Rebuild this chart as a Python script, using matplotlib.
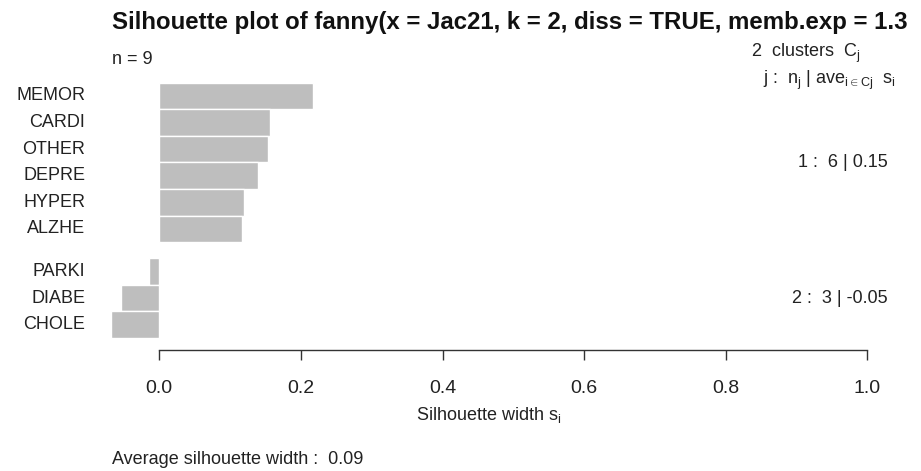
import numpy as np
import matplotlib
matplotlib.use("Agg")
import matplotlib.pyplot as plt
from matplotlib import transforms

# silhouette widths per object, sorted within cluster
names = ["MEMOR", "CARDI", "OTHER", "DEPRE", "HYPER", "ALZHE", "PARKI", "DIABE", "CHOLE"]
sil = [0.217, 0.156, 0.154, 0.140, 0.120, 0.117, -0.014, -0.054, -0.068]
cluster = [1, 1, 1, 1, 1, 1, 2, 2, 2]
xticks = [0.0, 0.2, 0.4, 0.6, 0.8, 1.0]

plt.rcParams["font.family"] = ["Liberation Sans", "DejaVu Sans"]
plt.rcParams["mathtext.fontset"] = "custom"
plt.rcParams["mathtext.rm"] = "Liberation Sans"
plt.rcParams["mathtext.it"] = "Liberation Sans"

sil = np.array(sil)
cluster = np.array(cluster)
gap = 0.6
# bar centres: one unit per bar, extra gap between clusters
ypos = np.arange(len(sil)) + 0.5 + gap * (cluster - 1)

W, H = 921, 471
fig = plt.figure(figsize=(W / 100, H / 100), dpi=100)
x0, x1 = -0.11, 1.04
px_per = 708.0
xo = 159.3
ax_top, ax_bot = 72.0, 350.0
left = xo + x0 * px_per
ax = fig.add_axes([left / W, (H - ax_bot) / H, (x1 - x0) * px_per / W, (ax_bot - ax_top) / H])

ax.barh(ypos, sil, height=1.0, color="#bebebe", edgecolor="white", linewidth=1.0)
ax.set_xlim(x0, x1)
ax.set_ylim(ypos[-1] + 0.5 + 0.45, -0.4)

for s in ["top", "right", "left"]:
    ax.spines[s].set_visible(False)
ax.spines["bottom"].set_bounds(0, 1)
ax.spines["bottom"].set_linewidth(1.0)
ax.spines["bottom"].set_color("#333333")
ax.set_yticks([])
ax.set_xticks(xticks)
ax.set_xticklabels([f"{t:.1f}" for t in xticks], fontsize=14, color="#222222")
ax.tick_params(axis="x", length=7.5, width=1.0, pad=14, color="#333333")
ax.set_xlabel(r"Silhouette width s$_\mathrm{i}$", fontsize=13, labelpad=6, color="#222222")

# object names, right-aligned at a fixed spot left of the bars
trans = transforms.blended_transform_factory(fig.transFigure, ax.transData)
for y, n in zip(ypos, names):
    ax.text(85 / W, y, n, transform=trans, ha="right", va="center", fontsize=13, color="#222222")

# per-cluster summary on the right
for k in np.unique(cluster):
    m = cluster == k
    yc = ypos[m].mean()
    ax.text(888 / W, yc, f"{k} :  {m.sum()} | {sil[m].mean():.2f}", transform=trans,
            ha="right", va="center", fontsize=13, color="#222222")

fig.text(112 / W, 1 - 22.5 / H, "Silhouette plot of fanny(x = Jac21, k = 2, diss = TRUE, memb.exp = 1.3",
         ha="left", va="center", fontsize=17.3, fontweight="bold", color="#111111")
fig.text(112 / W, 1 - 60 / H, "n = 9", ha="left", va="center", fontsize=13, color="#222222")
fig.text(860 / W, 1 - 53 / H, r"2  clusters  C$_\mathrm{j}$", ha="right", va="center", fontsize=13,
         color="#222222")
fig.text(896 / W, 1 - 80 / H, r"j :  n$_\mathrm{j}$ | ave$_{\mathrm{i\in Cj}}$  s$_\mathrm{i}$",
         ha="right", va="center", fontsize=13, color="#222222")
fig.text(112 / W, 1 - 460 / H, f"Average silhouette width :  {sil.mean():.2f}", ha="left", va="center",
         fontsize=13, color="#222222")

fig.savefig("out.png", dpi=100, facecolor="white")
